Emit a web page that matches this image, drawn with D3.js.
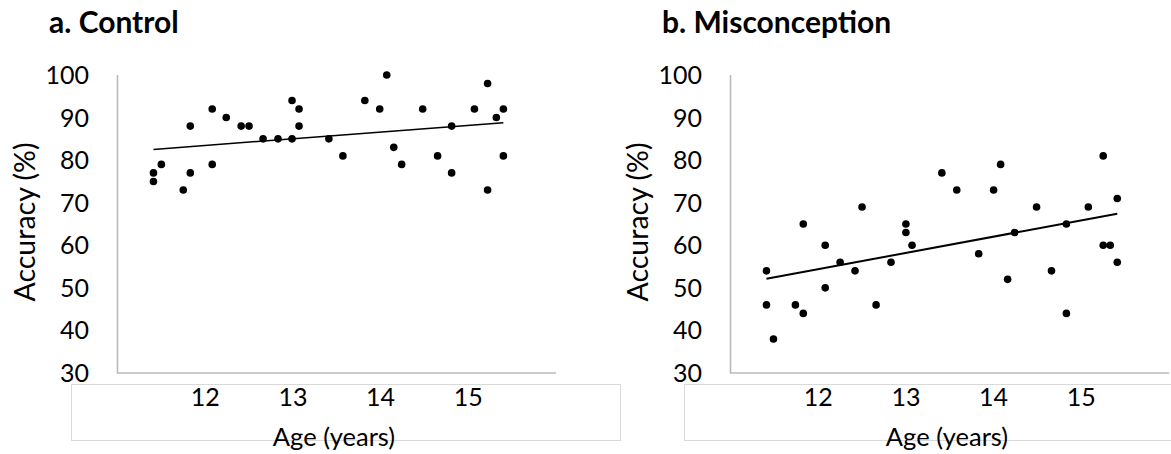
<!DOCTYPE html>
<html>
<head>
<meta charset="utf-8">
<script src="https://cdn.jsdelivr.net/npm/d3@7"></script>
<style>
  html, body { margin: 0; padding: 0; background: #fff; }
  svg { display: block; font-family: Lato, "Open Sans", sans-serif; }
</style>
</head>
<body>
<svg id="chart" width="1171" height="454"></svg>
<script>
// Ages (years) and accuracy (%) per participant
const ageControl = [11.41, 11.41, 11.50, 11.75, 11.83, 11.83, 12.08, 12.08, 12.24, 12.41, 12.50, 12.66,
  12.83, 12.99, 12.99, 13.07, 13.07, 13.41, 13.57, 13.82, 13.99, 14.07, 14.15, 14.24, 14.48, 14.65,
  14.81, 14.81, 15.07, 15.22, 15.22, 15.32, 15.40, 15.40];
const accControl = [75, 77, 79, 73, 88, 77, 92, 79, 90, 88, 88, 85,
  85, 85, 94, 92, 88, 85, 81, 94, 92, 100, 83, 79, 92, 81,
  88, 77, 92, 98, 73, 90, 92, 81];

const ageMisconception = [11.41, 11.41, 11.49, 11.74, 11.83, 11.83, 12.08, 12.08, 12.25, 12.42, 12.50,
  12.66, 12.83, 13.00, 13.00, 13.07, 13.41, 13.58, 13.83, 14.00, 14.08, 14.16, 14.24, 14.49, 14.66,
  14.83, 14.83, 15.08, 15.25, 15.25, 15.33, 15.41, 15.41];
const accMisconception = [54, 46, 38, 46, 44, 65, 60, 50, 56, 54, 69,
  46, 56, 65, 63, 60, 77, 73, 58, 73, 79, 52, 63, 69, 54,
  65, 44, 69, 81, 60, 60, 71, 56];

const yTicks = [30, 40, 50, 60, 70, 80, 90, 100];
const xTicks = [12, 13, 14, 15];
const xDomain = [11, 16];
const yDomain = [30, 100];

const panels = [
  { title: "a. Control", ages: ageControl, acc: accControl, dx: 0, trendWidth: 1.5 },
  { title: "b. Misconception", ages: ageMisconception, acc: accMisconception, dx: 613, trendWidth: 2 }
];

const svg = d3.select("#chart");
const axisColor = "#bababa";
const boxColor = "#d9d9d9";

// least-squares fit
function fit(xs, ys) {
  const mx = d3.mean(xs), my = d3.mean(ys);
  let sxy = 0, sxx = 0;
  xs.forEach((x, i) => { sxy += (x - mx) * (ys[i] - my); sxx += (x - mx) * (x - mx); });
  const b = sxy / sxx;
  return x => my + b * (x - mx);
}

panels.forEach(p => {
  const g = svg.append("g").attr("transform", `translate(${p.dx},0)`);
  const x = d3.scaleLinear().domain(xDomain).range([117.5, 556]);
  const y = d3.scaleLinear().domain(yDomain).range([373, 75]);

  // title
  g.append("text").attr("x", 49).attr("y", 33)
    .attr("font-size", 30).attr("font-weight", 700).attr("fill", "#000")
    .text(p.title);

  // light frame around the category labels
  g.append("rect").attr("x", 71.5).attr("y", 384.5).attr("width", 549).attr("height", 56)
    .attr("fill", "none").attr("stroke", boxColor).attr("stroke-width", 1);

  // y tick labels
  g.selectAll("text.ytick").data(yTicks).join("text")
    .attr("class", "ytick")
    .attr("x", 89).attr("y", d => y(d)).attr("dy", "0.36em")
    .attr("text-anchor", "end").attr("font-size", 25).attr("fill", "#000")
    .text(d => d);

  // x tick labels
  g.selectAll("text.xtick").data(xTicks).join("text")
    .attr("class", "xtick")
    .attr("x", d => x(d)).attr("y", 406)
    .attr("text-anchor", "middle").attr("font-size", 25).attr("fill", "#000")
    .text(d => d);

  // axis lines
  g.append("path")
    .attr("d", `M${x(xDomain[0])},${y(yDomain[1])}V${y(yDomain[0])}H${x(xDomain[1])}`)
    .attr("fill", "none").attr("stroke", axisColor).attr("stroke-width", 1.6);

  // axis titles
  g.append("text")
    .attr("transform", `translate(35,${222}) rotate(-90)`)
    .attr("text-anchor", "middle").attr("font-size", 28.5).attr("fill", "#000")
    .text("Accuracy (%)");
  g.append("text")
    .attr("x", 334).attr("y", 446)
    .attr("text-anchor", "middle").attr("font-size", 25.5).attr("fill", "#000")
    .text("Age (years)");

  // trend line
  const f = fit(p.ages, p.acc);
  const ext = d3.extent(p.ages);
  g.append("line")
    .attr("x1", x(ext[0])).attr("y1", y(f(ext[0])))
    .attr("x2", x(ext[1])).attr("y2", y(f(ext[1])))
    .attr("stroke", "#000").attr("stroke-width", p.trendWidth);

  // points
  g.selectAll("circle").data(p.ages.map((a, i) => [a, p.acc[i]])).join("circle")
    .attr("cx", d => x(d[0])).attr("cy", d => y(d[1])).attr("r", 3.8)
    .attr("fill", "#000");
});
</script>
</body>
</html>
